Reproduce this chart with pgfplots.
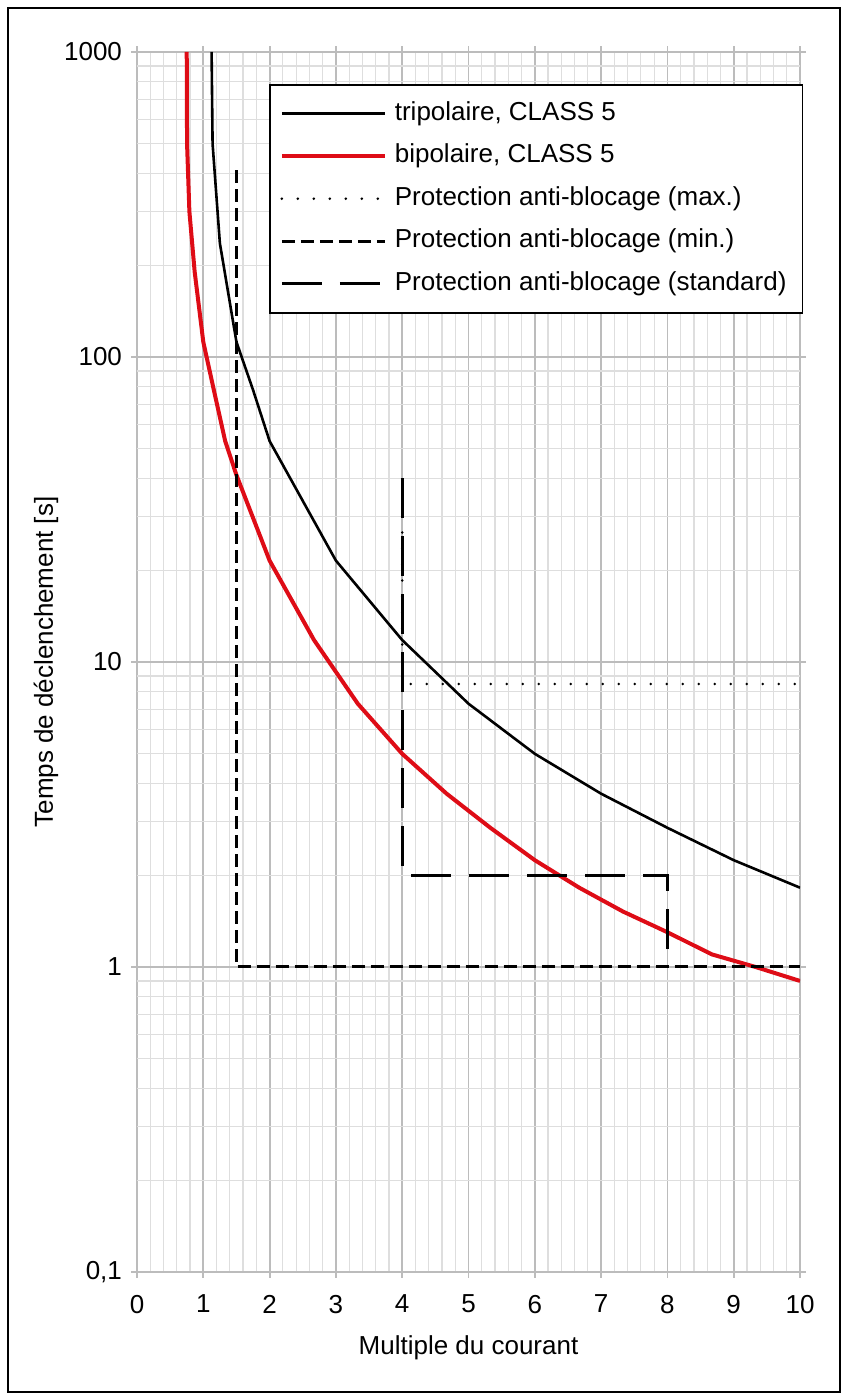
\documentclass[border=0pt]{standalone}
\usepackage{pgfplots}
\pgfplotsset{compat=1.18}
\usepackage{fontspec}
\setmainfont{Liberation Sans}
\definecolor{redc}{RGB}{222,12,22}
\definecolor{majg}{RGB}{188,188,188}
\definecolor{ming}{RGB}{222,222,222}
\begin{document}
\fontsize{13}{15.6}\selectfont
\begin{tikzpicture}
\useasboundingbox (0,0) rectangle (424pt,697.5pt);
\draw[line width=1.2pt] (4pt,1.5pt) rectangle (420pt,693.5pt);
\begin{axis}[
  at={(68.5pt,61.5pt)}, anchor=south west,
  scale only axis, width=331.5pt, height=610pt,
  xmin=0, xmax=10, ymin=0.1, ymax=1000, ymode=log,
  axis line style={draw=none},
  xtick={0,1,2,3,4,5,6,7,8,9,10},
  xticklabels={0,1,2,3,4,5,6,7,8,9,10},
  minor xtick={0.2,0.4,0.6,0.8,1.2,1.4,1.6,1.8,2.2,2.4,2.6,2.8,3.2,3.4,3.6,3.8,4.2,4.4,4.6,4.8,5.2,5.4,5.6,5.8,6.2,6.4,6.6,6.8,7.2,7.4,7.6,7.8,8.2,8.4,8.6,8.8,9.2,9.4,9.6,9.8},
  ytick={0.1,1,10,100,1000},
  yticklabels={{0,1},1,10,100,1000},
  minor ytick={0.2,0.3,0.4,0.5,0.6,0.7,0.8,0.9,2,3,4,5,6,7,8,9,20,30,40,50,60,70,80,90,200,300,400,500,600,700,800,900},
  grid=both,
  major grid style={draw=majg, line width=0.9pt},
  minor grid style={draw=ming, line width=0.6pt},
  tick align=outside, major tick length=3pt, minor tick length=0pt,
  tick style={draw=majg, line width=0.9pt},
  ticklabel style={font=\fontsize{13}{15.6}\selectfont},
  xticklabel style={yshift=-4pt},
  xlabel={Multiple du courant},
  ylabel={Temps de déclenchement [s]},
  label style={font=\fontsize{13}{15.6}\selectfont},
  xlabel style={at={(axis description cs:0.5,-0.0623)}, anchor=center},
  ylabel style={at={(axis description cs:-0.1373,0.5)}, anchor=center},
  legend style={at={(0.199,0.9738)}, anchor=north west, draw=black, line width=0.9pt,
    fill=white, inner xsep=5pt, inner ysep=5.3pt, row sep=2.95pt, column sep=1pt,
    font=\fontsize{13}{15.6}\selectfont,
    nodes={text height=9.5pt, text depth=2.8pt, inner sep=3pt}},
  legend cell align=left,
  legend image code/.code={\draw[#1] (0pt,0pt) -- (51.5pt,0pt);},
]
\addplot[black, line width=1.3pt] coordinates {
 (1.125,1000) (1.14,500) (1.25,236) (1.5,112) (1.75,78) (2,53) (3,21.5) (4,11.8)
 (5,7.3) (6,5.0) (7,3.7) (8,2.86) (9,2.24) (10,1.82)};
\addlegendentry{tripolaire, CLASS 5}
\addplot[redc, line width=2pt] coordinates {
 (0.75,1000) (0.755,500) (0.79,300) (0.87,190) (1,112) (1.17,76) (1.33,53) (1.5,41)
 (2,21.5) (2.67,11.8) (3.33,7.3) (4,5.0) (4.67,3.7) (5.33,2.86) (6,2.24) (6.67,1.82)
 (7.33,1.52) (8,1.30) (8.67,1.10) (9.33,1.0) (10,0.9)};
\addlegendentry{bipolaire, CLASS 5}
\addplot[black, line width=1.4pt, line cap=round, dash pattern=on 0pt off 8pt] coordinates {
 (4,30) (4,8.47) (10,8.47)};
\addlegendentry{Protection anti-blocage (max.)}
\addplot[black, line width=1.5pt, dash pattern=on 6.5pt off 3pt] coordinates {
 (1.5,410) (1.5,1) (10,1)};
\addlegendentry{Protection anti-blocage (min.)}
\addplot[black, line width=1.5pt, dash pattern=on 20pt off 9pt] coordinates {
 (4,40) (4,2) (8,2) (8,1)};
\addlegendentry{Protection anti-blocage (standard)}
\end{axis}
\end{tikzpicture}
\end{document}
